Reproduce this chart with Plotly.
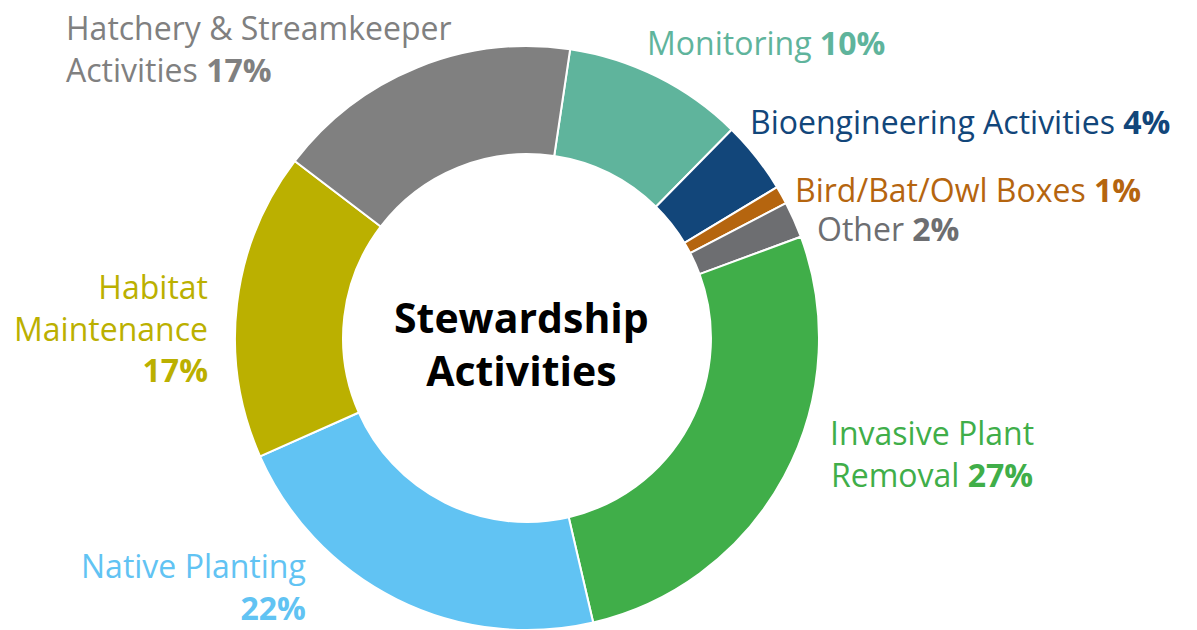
"""Donut chart of stewardship activities."""

import plotly.graph_objects as go

# Slice data, clockwise from Monitoring
categories = [
    "Monitoring",
    "Bioengineering Activities",
    "Bird/Bat/Owl Boxes",
    "Other",
    "Invasive Plant Removal",
    "Native Planting",
    "Habitat Maintenance",
    "Hatchery & Streamkeeper Activities",
]
values = [10, 4, 1, 2, 27, 22, 17, 17]
colors = [
    "#5FB49C",  # teal
    "#12467A",  # navy
    "#B5650F",  # brown-orange
    "#6D6E71",  # dark gray
    "#40AE49",  # green
    "#61C3F3",  # light blue
    "#BBB000",  # olive
    "#808080",  # gray
]
# Label wording as it appears beside the ring (line breaks included)
label_lines = [
    "Monitoring ",
    "Bioengineering Activities ",
    "Bird/Bat/Owl Boxes ",
    "Other ",
    "Invasive Plant<br>Removal ",
    "Native Planting<br>",
    "Habitat<br>Maintenance<br>",
    "Hatchery & Streamkeeper<br>Activities ",
]

W, H = 1197, 630
OFF = 8  # page body margin the browser adds around the plot div
CX, CY, R = 527, 338, 292  # ring centre and radius in window pixels

# label placement in window pixels: (x, y, xanchor, align)
label_pos = [
    (645, 42, "left", "left"),
    (748, 121, "left", "left"),
    (793, 189, "left", "left"),
    (815, 228, "left", "left"),
    (932, 453, "center", "center"),
    (308, 586, "right", "right"),
    (210, 328, "right", "right"),
    (64, 48, "left", "left"),
]

FONT = "Open Sans, sans-serif"


def px_x(x):
    return (x - OFF) / W


def px_y(y):
    return 1 - (y - OFF) / H


fig = go.Figure()

fig.add_trace(go.Pie(
    labels=categories,
    values=values,
    hole=0.63,
    sort=False,
    direction="clockwise",
    rotation=8.5,
    marker=dict(colors=colors, line=dict(color="white", width=2)),
    textinfo="none",
    hoverinfo="label+percent",
    showlegend=False,
    domain=dict(x=[px_x(CX - R), px_x(CX + R)], y=[px_y(CY + R), px_y(CY - R)]),
))

for name, v, c, lines, (px, py, xa, al) in zip(categories, values, colors, label_lines, label_pos):
    fig.add_annotation(
        text=f"{lines}<b>{v}%</b>",
        x=px_x(px), y=px_y(py),
        xref="paper", yref="paper",
        xanchor=xa, yanchor="middle", align=al,
        showarrow=False,
        font=dict(family=FONT, size=32, color=c),
    )

fig.add_annotation(
    text="<b>Stewardship<br>Activities</b>",
    x=px_x(521), y=px_y(343),
    xref="paper", yref="paper",
    xanchor="center", yanchor="middle",
    showarrow=False,
    font=dict(family=FONT, size=41, color="black"),
)

fig.update_layout(
    width=W,
    height=H,
    margin=dict(l=0, r=0, t=0, b=0),
    paper_bgcolor="white",
    plot_bgcolor="white",
)

fig.write_html("out.html")
